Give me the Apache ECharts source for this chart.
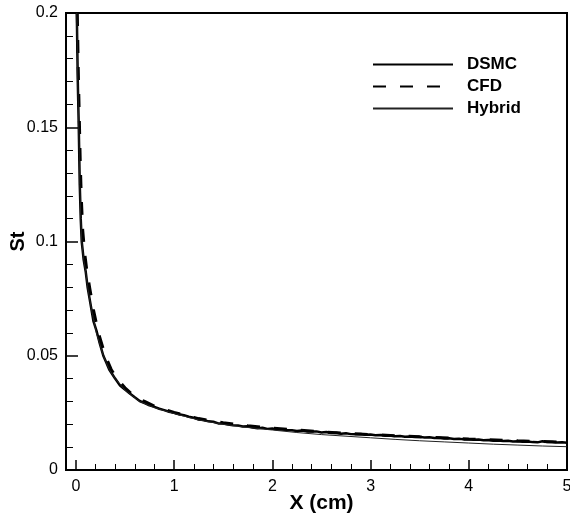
<!DOCTYPE html>
<html>
<head>
<meta charset="utf-8">
<script src="https://cdn.jsdelivr.net/npm/echarts@6/dist/echarts.min.js"></script>
<style>
  html, body { margin: 0; padding: 0; background: #fff; }
  #chart { width: 570px; height: 516px; }
</style>
</head>
<body>
<div id="chart"></div>
<script>
// Stanton number along the plate, three solvers
var dsmcX = [0.01, 0.02, 0.03, 0.04, 0.05, 0.06, 0.07, 0.08, 0.10, 0.12, 0.14, 0.16, 0.18, 0.21, 0.24, 0.28, 0.31, 0.34, 0.37, 0.40, 0.45, 0.50, 0.55, 0.60, 0.65, 0.70, 0.75, 0.80, 0.85, 0.90, 0.95,
  1.00, 1.05, 1.10, 1.15, 1.20, 1.25, 1.30, 1.35, 1.40, 1.45, 1.50, 1.55, 1.60, 1.65, 1.70, 1.75, 1.80, 1.85, 1.90, 1.95,
  2.00, 2.05, 2.10, 2.15, 2.20, 2.25, 2.30, 2.35, 2.40, 2.45, 2.50, 2.55, 2.60, 2.65, 2.70, 2.75, 2.80, 2.85, 2.90, 2.95,
  3.00, 3.05, 3.10, 3.15, 3.20, 3.25, 3.30, 3.35, 3.40, 3.45, 3.50, 3.55, 3.60, 3.65, 3.70, 3.75, 3.80, 3.85, 3.90, 3.95,
  4.00, 4.05, 4.10, 4.15, 4.20, 4.25, 4.30, 4.35, 4.40, 4.45, 4.50, 4.55, 4.60, 4.65, 4.70, 4.75, 4.80, 4.85, 4.90, 4.95, 5.00];
var dsmcSt = [0.200, 0.170, 0.150, 0.125, 0.110, 0.100, 0.096, 0.092, 0.087, 0.080, 0.075, 0.070, 0.065, 0.061, 0.056, 0.050, 0.047, 0.044, 0.042, 0.040, 0.037, 0.0352, 0.0335, 0.0318, 0.0302, 0.0293, 0.0283, 0.0276, 0.0268, 0.0262, 0.0255,
  0.0250, 0.0244, 0.0240, 0.0233, 0.0229, 0.0221, 0.0219, 0.0213, 0.0211, 0.0204, 0.0203, 0.0199, 0.0196, 0.0195, 0.0190, 0.0191, 0.0186, 0.0183, 0.0185, 0.0180,
  0.0182, 0.0177, 0.0177, 0.0175, 0.0174, 0.0171, 0.0173, 0.0169, 0.0168, 0.0169, 0.0164, 0.0166, 0.0162, 0.0163, 0.0159, 0.0161, 0.0157, 0.0156, 0.0158, 0.0154,
  0.0155, 0.0152, 0.0153, 0.0150, 0.0151, 0.0148, 0.0149, 0.0146, 0.0147, 0.0144, 0.0145, 0.0142, 0.0143, 0.0140, 0.0141, 0.0138, 0.0139, 0.0136, 0.0137, 0.0134,
  0.0135, 0.0132, 0.0133, 0.0130, 0.0131, 0.0128, 0.0129, 0.0127, 0.0128, 0.0125, 0.0126, 0.0124, 0.0125, 0.0122, 0.0121, 0.0126, 0.0122, 0.0123, 0.0120, 0.0121, 0.0119];

var cfdX = [0.015, 0.025, 0.035, 0.045, 0.055, 0.07, 0.09, 0.11, 0.14, 0.18, 0.23, 0.30, 0.36, 0.42, 0.50, 0.60, 0.70, 0.80, 1.00, 1.25, 1.50, 1.75, 2.00, 2.50, 3.00, 3.50, 4.00, 4.50, 5.00];
var cfdSt = [0.200, 0.175, 0.155, 0.135, 0.120, 0.105, 0.095, 0.088, 0.080, 0.070, 0.060, 0.050, 0.044, 0.040, 0.036, 0.032, 0.030, 0.0280, 0.0252, 0.0225, 0.0207, 0.0194, 0.0183, 0.0167, 0.0155, 0.0145, 0.0136, 0.0128, 0.0121];

var hybridX = [0.01, 0.02, 0.03, 0.04, 0.05, 0.06, 0.08, 0.10, 0.12, 0.16, 0.21, 0.28, 0.34, 0.40, 0.50, 0.65, 0.80, 1.00, 1.25, 1.50, 1.75, 2.00, 2.25, 2.50, 2.75, 3.00, 3.25, 3.50, 3.75, 4.00, 4.25, 4.50, 4.75, 5.00];
var hybridSt = [0.200, 0.170, 0.150, 0.125, 0.110, 0.100, 0.092, 0.087, 0.080, 0.070, 0.060, 0.050, 0.044, 0.040, 0.035, 0.030, 0.0273, 0.0247, 0.0219, 0.0200, 0.0186, 0.0175, 0.0164, 0.0155, 0.0148, 0.0141, 0.0134, 0.0128, 0.0123, 0.0118, 0.0113, 0.0109, 0.0105, 0.0102];

var seriesNames = ['DSMC', 'CFD', 'Hybrid'];

function pairs(xs, ys) { return xs.map(function (x, i) { return [x, ys[i]]; }); }

var font = "'Liberation Sans', Arial, Helvetica, sans-serif";
var chart = echarts.init(document.getElementById('chart'), null, { renderer: 'canvas' });

chart.setOption({
  animation: false,
  backgroundColor: '#fff',
  textStyle: { fontFamily: font, color: '#000' },
  grid: [
    { left: 66, right: 3, top: 13, bottom: 46, outerBoundsMode: 'none', containLabel: false,
      show: true, borderColor: '#000', borderWidth: 2, backgroundColor: 'transparent' },
    { left: 76, right: 3, top: 13, bottom: 46, outerBoundsMode: 'none', containLabel: false, show: false }
  ],
  legend: {
    orient: 'vertical',
    left: 372,
    top: 56,
    padding: 0,
    itemWidth: 80,
    itemHeight: 16,
    itemGap: 5,
    data: seriesNames,
    itemStyle: { opacity: 0 },
    textStyle: { fontFamily: font, fontSize: 17, fontWeight: 'bold', color: '#000', padding: [0, 0, 0, 9] }
  },
  xAxis: [
    {
      type: 'value', gridIndex: 0, min: -0.1, max: 5,
      axisLine: { show: true, onZero: false, lineStyle: { color: '#000', width: 2 } },
      axisTick: { show: false }, axisLabel: { show: false }, splitLine: { show: false }
    },
    {
      type: 'value', gridIndex: 1, min: 0, max: 5, interval: 1,
      name: 'X (cm)', nameLocation: 'middle', nameGap: 23, nameMoveOverlap: false,
      nameTextStyle: { fontFamily: font, fontSize: 21, fontWeight: 'bold', color: '#000' },
      axisLine: { show: false, onZero: false },
      axisTick: { show: true, inside: true, length: 10, lineStyle: { color: '#000', width: 1.5 } },
      minorTick: { show: true, splitNumber: 5, length: 6, lineStyle: { color: '#000', width: 1 } },
      axisLabel: { fontFamily: font, fontSize: 16, color: '#000', margin: 9 },
      splitLine: { show: false }
    }
  ],
  yAxis: [
    {
      type: 'value', gridIndex: 0, min: 0, max: 0.2, interval: 0.05,
      name: 'St', nameLocation: 'middle', nameGap: 38, nameMoveOverlap: false,
      nameTextStyle: { fontFamily: font, fontSize: 20, fontWeight: 'bold', color: '#000' },
      axisLine: { show: true, onZero: false, lineStyle: { color: '#000', width: 2 } },
      axisTick: { show: true, inside: true, length: 12, lineStyle: { color: '#000', width: 1.5 } },
      minorTick: { show: true, splitNumber: 5, length: 7, lineStyle: { color: '#000', width: 1 } },
      axisLabel: { fontFamily: font, fontSize: 16, color: '#000', margin: 8 },
      splitLine: { show: false }
    },
    { type: 'value', gridIndex: 1, min: 0, max: 0.2, show: false }
  ],
  series: [
    {
      name: 'DSMC', type: 'line', xAxisIndex: 0, yAxisIndex: 0, showSymbol: false, symbol: 'none',
      lineStyle: { color: '#000', width: 2.5 }, itemStyle: { color: '#000' },
      data: pairs(dsmcX, dsmcSt), z: 3
    },
    {
      name: 'CFD', type: 'line', xAxisIndex: 0, yAxisIndex: 0, showSymbol: false, symbol: 'none',
      lineStyle: { color: '#000', width: 3, type: [13, 14] }, itemStyle: { color: '#000' },
      data: pairs(cfdX, cfdSt), z: 2
    },
    {
      name: 'Hybrid', type: 'line', xAxisIndex: 0, yAxisIndex: 0, showSymbol: false, symbol: 'none',
      lineStyle: { color: '#222', width: 1 }, itemStyle: { color: '#222' },
      data: pairs(hybridX, hybridSt), z: 4
    }
  ]
});
</script>
</body>
</html>
